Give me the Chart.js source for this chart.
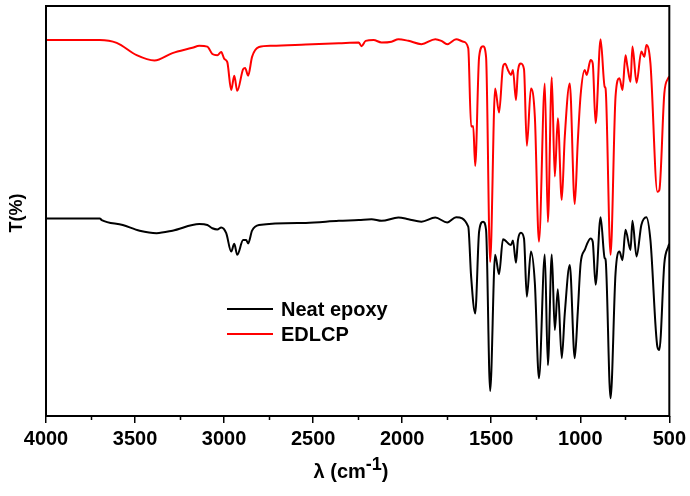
<!DOCTYPE html>
<html>
<head>
<meta charset="utf-8">
<script src="https://cdn.jsdelivr.net/npm/chart.js@4"></script>
<style>
  html, body { margin: 0; padding: 0; background: #fff; }
  #wrap { width: 690px; height: 496px; position: relative; }
</style>
</head>
<body>
<div id="wrap"><canvas id="myChart"></canvas></div>
<script>
// FTIR spectra, wavenumber (cm-1) vs transmittance (offset, arbitrary %)
const seriesLabels = ["Neat epoxy", "EDLCP"];
const seriesColors = ["#000000", "#ff0000"];

const xTicks = [4000, 3500, 3000, 2500, 2000, 1500, 1000, 500];

const neatWn = [4000, 3698, 3687, 3569, 3474, 3379, 3290, 3139, 3094, 3066, 3038, 3016, 2988, 2960, 2943, 2926,
  2893, 2876, 2865, 2843, 2804, 2541, 2356, 2244, 2172, 2116, 2021, 1965, 1892, 1814, 1747, 1697, 1629, 1613,
  1590, 1568, 1546, 1529, 1506, 1478, 1456, 1434, 1389, 1378, 1361, 1350, 1333, 1316, 1300, 1277, 1255, 1232,
  1199, 1182, 1160, 1143, 1126, 1104, 1087, 1059, 1031, 1014, 998, 975, 942, 930, 914, 886, 863, 858, 830,
  802, 780, 763, 746, 718, 707, 684, 657, 629, 606, 567, 556, 528, 506, 500];
const neatT = [48.2, 48.2, 47.8, 46.6, 45.2, 44.6, 45.2, 46.8, 46.6, 45.8, 45.5, 46.0, 44.6, 40.1, 42.0, 39.3,
  42.9, 42.9, 42.1, 45.2, 46.6, 47.1, 47.6, 47.8, 48.0, 47.6, 48.4, 48.0, 47.4, 48.4, 47.2, 48.5, 46.2, 34.1,
  25.0, 45.0, 47.4, 45.4, 6.1, 39.3, 34.6, 43.1, 41.7, 42.8, 37.4, 42.9, 44.7, 43.3, 29.1, 40.1, 32.4, 9.2,
  39.4, 12.4, 39.4, 21.0, 30.9, 14.1, 25.0, 36.8, 14.1, 25.4, 37.2, 40.5, 43.3, 42.5, 32.0, 48.5, 38.5, 38.2, 4.3,
  34.8, 40.1, 38.0, 45.4, 40.5, 47.6, 38.9, 46.6, 48.5, 42.9, 16.9, 16.1, 37.2, 41.3, 42.0];

const edlcpWn = [4000, 3698, 3603, 3491, 3391, 3290, 3178, 3139, 3094, 3066, 3038, 3016, 2999, 2982, 2960, 2943,
  2926, 2893, 2882, 2865, 2843, 2804, 2731, 2541, 2356, 2244, 2228, 2205, 2161, 2116, 2060, 2021, 1965, 1892,
  1814, 1780, 1747, 1697, 1657, 1629, 1613, 1601, 1590, 1568, 1546, 1529, 1506, 1478, 1456, 1434, 1422, 1406,
  1389, 1378, 1361, 1350, 1333, 1316, 1300, 1277, 1255, 1232, 1199, 1182, 1160, 1143, 1126, 1104, 1087, 1059,
  1031, 1014, 998, 975, 964, 942, 930, 914, 886, 863, 858, 830, 802, 780, 763, 746, 735, 718, 707, 684, 657,
  640, 629, 606, 567, 556, 528, 506, 500];
const edlcpT = [91.7, 91.7, 91.0, 88.0, 86.7, 88.5, 89.8, 90.3, 90.1, 88.3, 88.0, 88.8, 87.1, 86.3, 79.5, 83.0,
  79.3, 84.6, 84.9, 83.0, 87.6, 90.0, 90.3, 90.6, 90.9, 91.1, 90.2, 91.5, 91.7, 91.1, 91.3, 91.9, 91.5, 90.7,
  91.9, 91.5, 90.7, 91.9, 91.3, 89.7, 70.6, 70.7, 61.0, 87.6, 90.2, 87.6, 37.6, 79.9, 74.0, 85.2, 85.9, 84.4,
  83.2, 84.4, 77.1, 84.2, 86.0, 84.6, 65.9, 79.9, 73.0, 42.5, 81.1, 47.3, 82.6, 58.4, 72.6, 52.7, 68.1, 81.1,
  51.7, 66.9, 78.3, 84.4, 83.2, 86.8, 86.0, 71.4, 91.9, 80.3, 79.9, 39.3, 77.9, 82.4, 79.5, 88.0, 85.2, 81.5, 90.1, 81.3, 88.9,
  87.6, 90.5, 86.0, 54.7, 55.1, 78.7, 82.4, 82.8];

const FONT = "Arial, 'Liberation Sans', sans-serif";

function toPoints(xs, ys) {
  return xs.map((x, i) => ({ x: x, y: ys[i] }));
}

// frame, minor ticks, axis titles and the legend inside the plot
const decorations = {
  id: "decorations",
  afterDraw(chart) {
    const c = chart.ctx;
    const a = chart.chartArea;
    const xs = chart.scales.x;
    c.save();
    c.strokeStyle = "#000";
    c.lineWidth = 2;
    c.strokeRect(a.left, a.top, a.right - a.left, a.bottom - a.top);

    // minor ticks
    c.lineWidth = 1.5;
    c.beginPath();
    for (let v = 750; v < 4000; v += 500) {
      const px = Math.round(xs.getPixelForValue(v)) + 0.5;
      c.moveTo(px, a.bottom);
      c.lineTo(px, a.bottom + 4);
    }
    c.stroke();

    c.fillStyle = "#000";
    // y title
    c.save();
    c.translate(17, 213);
    c.rotate(-Math.PI / 2);
    c.font = "bold 18px " + FONT;
    c.textAlign = "center";
    c.textBaseline = "middle";
    c.fillText("T(%)", 0, 0);
    c.restore();

    // x title with superscript
    const main = "\u03bb (cm";
    const sup = "-1";
    const tail = ")";
    c.font = "bold 20px " + FONT;
    const w1 = c.measureText(main).width;
    const w3 = c.measureText(tail).width;
    c.font = "bold 18px " + FONT;
    const w2 = c.measureText(sup).width;
    let x0 = 351 - (w1 + w2 + w3) / 2;
    const base = 478;
    c.textAlign = "left";
    c.textBaseline = "alphabetic";
    c.font = "bold 20px " + FONT;
    c.fillText(main, x0, base);
    c.font = "bold 18px " + FONT;
    c.fillText(sup, x0 + w1, base - 8);
    c.font = "bold 20px " + FONT;
    c.fillText(tail, x0 + w1 + w2, base);

    // legend
    c.font = "bold 20px " + FONT;
    c.textBaseline = "middle";
    chart.data.datasets.forEach((ds, i) => {
      const y = 309 + i * 25;
      c.strokeStyle = ds.borderColor;
      c.lineWidth = 2;
      c.beginPath();
      c.moveTo(227, y);
      c.lineTo(273, y);
      c.stroke();
      c.fillStyle = "#000";
      c.fillText(ds.label, 281, y + 1);
    });
    c.restore();
  },
};

const ctx = document.getElementById("myChart");

new Chart(ctx, {
  type: "line",
  data: {
    datasets: [
      {
        label: seriesLabels[0],
        data: toPoints(neatWn, neatT),
        borderColor: seriesColors[0],
        borderWidth: 2,
        pointRadius: 0,
        fill: false,
        cubicInterpolationMode: "monotone",
      },
      {
        label: seriesLabels[1],
        data: toPoints(edlcpWn, edlcpT),
        borderColor: seriesColors[1],
        borderWidth: 2,
        pointRadius: 0,
        fill: false,
        cubicInterpolationMode: "monotone",
      },
    ],
  },
  options: {
    responsive: true,
    maintainAspectRatio: false,
    animation: false,
    layout: { padding: { left: 0, right: 18, top: 6, bottom: 0 } },
    plugins: {
      legend: { display: false },
      tooltip: { enabled: false },
    },
    scales: {
      x: {
        type: "linear",
        reverse: true,
        min: 500,
        max: 4000,
        afterBuildTicks: (scale) => {
          scale.ticks = xTicks.map((v) => ({ value: v }));
        },
        afterFit: (scale) => {
          scale.height = 80;
        },
        border: { display: false },
        grid: {
          drawOnChartArea: false,
          drawTicks: true,
          tickLength: 7,
          color: "#000",
          lineWidth: 1.5,
        },
        ticks: {
          color: "#000",
          font: { family: FONT, size: 20, weight: "bold" },
          padding: 4,
          maxRotation: 0,
          autoSkip: false,
          callback: (v) => String(v),
        },
      },
      y: {
        min: 0,
        max: 100,
        afterFit: (scale) => {
          scale.width = 46;
        },
        border: { display: false },
        grid: { display: false },
        ticks: { display: false },
      },
    },
  },
  plugins: [decorations],
});
</script>
</body>
</html>
